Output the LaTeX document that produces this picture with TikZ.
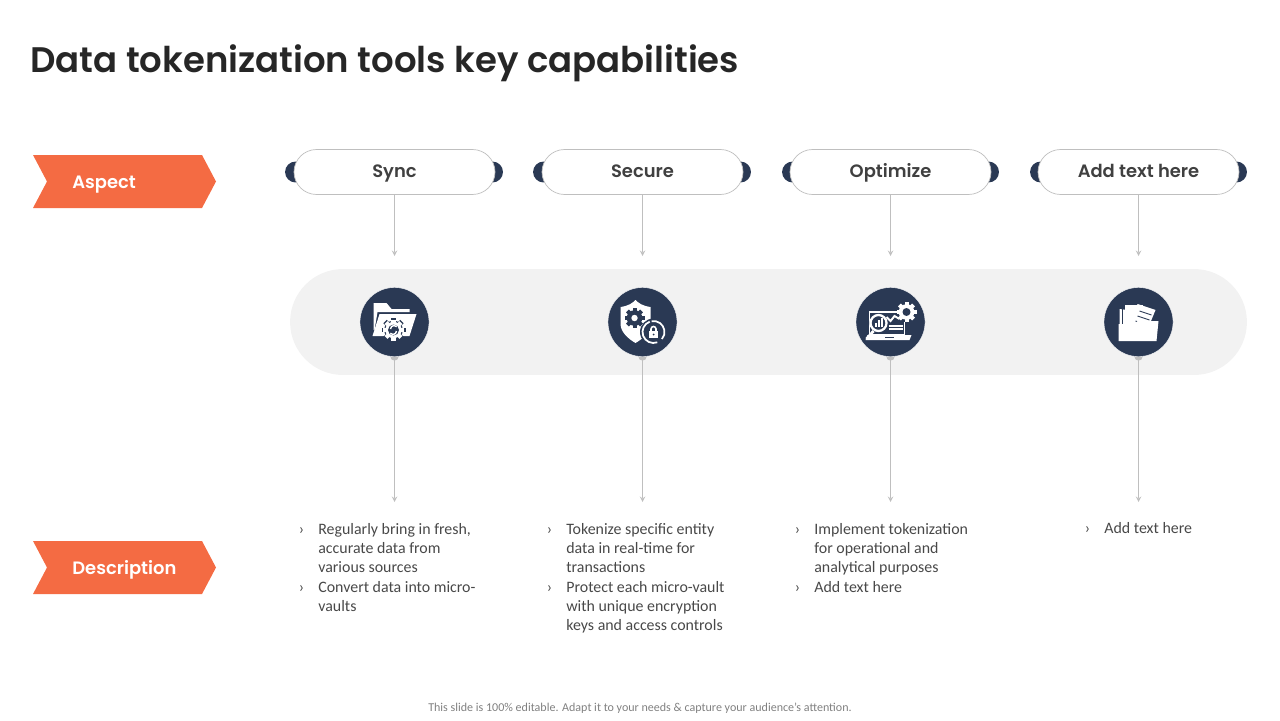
\documentclass[tikz,border=0pt]{standalone}
\usepackage{fontspec}
\setmainfont{Poppins}
\newfontfamily\headfont{Poppins SemiBold}
\newfontfamily\bodyfont{Carlito}
\usepackage{tikz}
\usetikzlibrary{arrows,shapes,positioning,backgrounds}
\definecolor{dtnavy}{RGB}{42,57,84}
\definecolor{dtorange}{RGB}{244,107,67}
\definecolor{dtband}{RGB}{242,242,242}
\definecolor{dtline}{RGB}{191,191,191}
\definecolor{dttitle}{RGB}{38,38,38}
\definecolor{dtlabel}{RGB}{64,64,64}
\definecolor{dtbody}{RGB}{72,72,72}
\tikzstyle{pill} = [rectangle, rounded corners=12.8pt, minimum width=114.4pt, minimum height=25.6pt, inner sep=0pt, text height=8.4pt, text depth=1.6pt, text centered, draw=dtline, fill=white, text=dtlabel, font=\headfont\fontsize{10.2}{12}\selectfont]
\tikzstyle{knob} = [circle, minimum size=11.9pt, inner sep=0pt, fill=dtnavy]
\tikzstyle{iconbg} = [circle, minimum size=39.3pt, inner sep=0pt, fill=dtnavy, draw=white, very thin]
\tikzstyle{tagtext} = [text=white, anchor=base west, inner sep=0pt, font=\headfont\fontsize{10.2}{12}\selectfont]
\tikzstyle{arrow} = [thin,*->,>=stealth,color=dtline,shorten <=-2.5pt]
\tikzstyle{headarrow} = [thin,->,>=stealth,color=dtline]
\tikzstyle{desc} = [anchor=north west, align=left, inner sep=0pt, text=dtbody, font=\bodyfont\fontsize{9.05}{10.81}\selectfont]
\newcommand{\dtbullet}{\llap{›\hspace{8pt}}}
% gear: centre, outer radius, colour
\newcommand{\dtgear}[4]{%
  \fill[#4] (#1,#2) circle (#3*0.78);
  \foreach \a in {0,45,...,315} {
    \fill[#4, rotate around={\a:(#1,#2)}] (#1-#3*0.2,#2-#3) rectangle (#1+#3*0.2,#2-#3*0.6);
  }
}
\begin{document}
\begin{tikzpicture}[x=0.02cm,y=-0.02cm]
\useasboundingbox (0,0) rectangle (1280,720);

% Title
\node[anchor=base west, inner sep=0pt, text=dttitle, font=\headfont\fontsize{20.2}{25}\selectfont] (title) at (30,72.5) {Data tokenization tools key capabilities};

% Left tags
\fill[dtorange] (33,155) -- (202,155) -- (216,181.5) -- (202,208) -- (33,208) -- (47,181.5) -- cycle;
\node[tagtext] (aspect) at (72,188) {Aspect};
\fill[dtorange] (33,541) -- (202,541) -- (216,567.5) -- (202,594) -- (33,594) -- (47,567.5) -- cycle;
\node[tagtext] (description) at (72,574) {Description};

% Knobs behind the pills
\node[knob] (syncl) at (295.5,172) {};
\node[knob] (syncr) at (492.5,172) {};
\node[knob] (securel) at (543.5,172) {};
\node[knob] (securer) at (740.5,172) {};
\node[knob] (optl) at (792.5,172) {};
\node[knob] (optr) at (988.5,172) {};
\node[knob] (addl) at (1040.5,172) {};
\node[knob] (addr) at (1236.5,172) {};

% Aspects
\node[pill] (sync) at (394.5,172) {Sync};
\node[pill] (secure) at (642.5,172) {Secure};
\node[pill] (optimize) at (890.5,172) {Optimize};
\node[pill] (addtext) at (1138.5,172) {Add text here};

% Free ends
\coordinate (synca) at (394.5,256);
\coordinate (securea) at (642.5,256);
\coordinate (opta) at (890.5,256);
\coordinate (adda) at (1138.5,256);
\coordinate (syncb) at (394.5,502);
\coordinate (secureb) at (642.5,502);
\coordinate (optb) at (890.5,502);
\coordinate (addb) at (1138.5,502);

% Icon discs
\node[iconbg] (syncicon) at (394.5,322) {};
\node[iconbg] (secureicon) at (642.5,322) {};
\node[iconbg] (opticon) at (890.5,322) {};
\node[iconbg] (addicon) at (1138.5,322) {};

% Arrows
\draw[headarrow] (sync) -- (synca);
\draw[headarrow] (secure) -- (securea);
\draw[headarrow] (optimize) -- (opta);
\draw[headarrow] (addtext) -- (adda);

% Band and lower arrows go under the discs
\begin{scope}[on background layer]
\node[rectangle, rounded corners=30.1pt, minimum width=544.6pt, minimum height=60.3pt, inner sep=0pt, fill=dtband] (band) at (768.5,322) {};
\draw[arrow] (syncicon) -- (syncb);
\draw[arrow] (secureicon) -- (secureb);
\draw[arrow] (opticon) -- (optb);
\draw[arrow] (addicon) -- (addb);
\end{scope}

% Folder with gear
\begin{scope}[shift={(394.5,322)}]
\fill[white] (-21,-19) -- (-8,-19) -- (-3,-13) -- (15,-13) -- (15,-10) -- (-17,-10) -- (-20,8) -- (-21,8) -- cycle;
\fill[white] (-15,-8) -- (22,-8) -- (15,14) -- (-22,14) -- cycle;
\dtgear{-1}{8}{12}{dtnavy}
\dtgear{-1}{8}{10.5}{white}
\fill[dtnavy] (-1,8) circle (5.5);
\draw[white, line width=0.8pt] (-4,7) arc (180:320:3.5);
\draw[white, line width=0.8pt] (2,9) arc (0:140:3.5);
\end{scope}

% Shield with lock
\begin{scope}[shift={(642.5,322)}]
\fill[white] (-22,-15) .. controls (-14,-16) and (-10,-19) .. (-7,-22) .. controls (-4,-19) and (0,-16) .. (8,-15) -- (8,2) .. controls (8,10) and (0,17) .. (-7,21) .. controls (-14,17) and (-22,10) .. (-22,2) -- cycle;
\dtgear{-8}{-4}{10}{dtnavy}
\fill[white] (-8,-4) circle (3.2);
\fill[dtnavy] (11,10) circle (13.5);
\draw[white, line width=1pt] (11,10) ++(70:11) arc (70:250:11);
\draw[white, line width=1pt] (11,10) ++(260:11) arc (260:400:11);
\fill[white] (6.5,9) rectangle (15.5,16);
\draw[white, line width=0.9pt] (8.5,9) -- (8.5,7) arc (180:360:2.5) -- (13.5,9);
\fill[dtnavy] (11,12.5) circle (1);
\end{scope}

% Laptop with magnifier and gear
\begin{scope}[shift={(890.5,322)}]
\draw[white, line width=1.1pt] (14,-10) -- (-21,-10) -- (-21,13) -- (14,13) -- (14,0);
\fill[white] (-23,13) -- (21,13) -- (19,18) -- (-25,18) -- cycle;
\fill[dtnavy] (-6,14.5) rectangle (3,15.8);
\draw[white, line width=1.6pt] (-17,9) -- (-24,17);
\fill[dtnavy] (-12,1) circle (9);
\draw[white, line width=1.3pt] (-12,1) circle (8);
\fill[white] (-16,1) rectangle (-14,5);
\fill[white] (-13,-2) rectangle (-11,5);
\fill[white] (-10,-4) rectangle (-8,5);
\draw[white, line width=1.1pt] (-4,-5) -- (0,-1) -- (4,-6) -- (9,-3);
\draw[white, line width=0.8pt] (-2,4) -- (12,4);
\draw[white, line width=0.8pt] (-2,7) -- (12,7);
\dtgear{16}{-10}{10}{white}
\fill[dtnavy] (16,-10) circle (4);
\end{scope}

% Folder with documents
\begin{scope}[shift={(1138.5,322)}]
\fill[white] (-14,-17) rectangle (4,-5);
\fill[white] (-19,-13) -- (-3,-11) -- (-3,2) -- (-19,2) -- cycle;
\draw[dtnavy, line width=0.5pt] (-16,-14) -- (-16,2);
\fill[white] (-1,-18) -- (17,-12) -- (10,5) -- (-7,2) -- cycle;
\draw[dtnavy, line width=0.5pt] (1,-11) -- (13,-7);
\draw[dtnavy, line width=0.5pt] (-1,-6) -- (11,-2);
\draw[dtnavy, line width=0.5pt] (-3,-1) -- (5,2);
\fill[white] (-20,2) -- (-4,2) -- (-1,-1) -- (20,-1) -- (18,19) -- (-20,19) -- cycle;
\end{scope}

% Descriptions
\node[desc] (syncdesc) at (318,523) {\dtbullet Regularly bring in fresh,\\accurate data from\\various sources\\[0.5pt]\dtbullet Convert data into micro-\\vaults};
\node[desc] (securedesc) at (566,523) {\dtbullet Tokenize specific entity\\data in real-time for\\transactions\\[0.5pt]\dtbullet Protect each micro-vault\\with unique encryption\\keys and access controls};
\node[desc] (optdesc) at (814,523) {\dtbullet Implement tokenization\\for operational and\\analytical purposes\\[0.5pt]\dtbullet Add text here};
\node[desc] (adddesc) at (1104,522) {\dtbullet Add text here};

% Footer
\node[inner sep=0pt, text=gray, font=\bodyfont\fontsize{6.85}{8}\selectfont] (footer) at (640,708) {This slide is 100\% editable. Adapt it to your needs \& capture your audience’s attention.};
\end{tikzpicture}
\end{document}
